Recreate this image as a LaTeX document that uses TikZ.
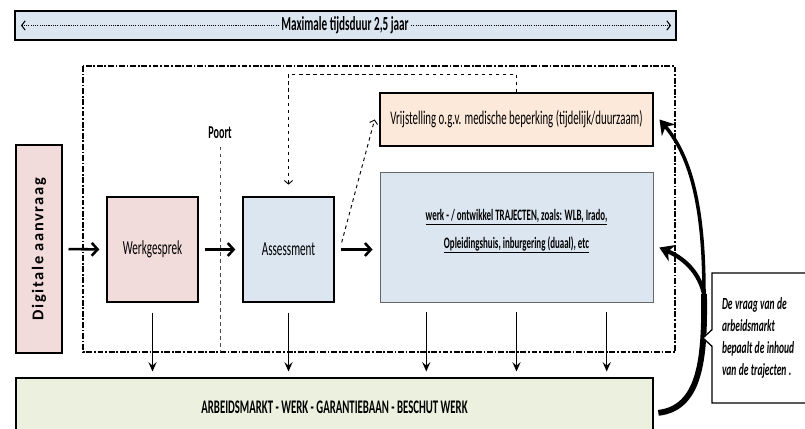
\documentclass[tikz,border=0pt]{standalone}
\usepackage{fontspec}
\setmainfont{Carlito}[FakeStretch=0.56]
\newfontfamily\spreadface{Carlito}[LetterSpace=10]
\usetikzlibrary{arrows.meta,shapes.callouts}

\definecolor{roze}{HTML}{F2DCDB}
\definecolor{lichtblauw}{HTML}{DCE6F1}
\definecolor{perzik}{HTML}{FDE9D9}
\definecolor{lichtgroen}{HTML}{EBF1DE}

\newcommand{\fs}[1]{\fontsize{#1}{#1}\selectfont}

\begin{document}
\begin{tikzpicture}[x=0.03cm, y=-0.03cm,
    box/.style={draw, line width=1.1pt, inner sep=0pt},
    flow/.style={line width=2.2pt, shorten <=5pt, shorten >=6pt, -{Straight Barb[length=5pt,width=11pt]}},
    drop/.style={line width=1pt, shorten <=8.5pt, shorten >=5pt, -{Stealth[length=8pt,width=7pt,inset=3pt]}},
    dashflow/.style={dashed, line width=0.8pt, -{Straight Barb[length=3pt,width=7pt]}},
    bigbend/.style={line width=3pt, -{Stealth[length=12pt,width=15pt]}}]
    \useasboundingbox (0,0) rectangle (805,429);

    \node[box, fill=lichtblauw, minimum width=19.83cm, minimum height=0.87cm] (TD) at (345.5,25.5) {};
    \node[fill=lichtblauw, inner sep=2pt, font=\bfseries\fs{17}] (TDtxt) at (345,25.5) {Maximale tijdsduur 2,5 jaar};
    \coordinate (TDl) at (21,25.5);
    \coordinate (TDr) at (671,25.5);
    \draw[densely dotted, line width=0.9pt, -{Straight Barb[length=3pt,width=8pt]}] (TDtxt) -- (TDl);
    \draw[densely dotted, line width=0.9pt, -{Straight Barb[length=3pt,width=8pt]}] (TDtxt) -- (TDr);

    \draw[line width=1.1pt, dash pattern=on 5pt off 1.5pt on 1.5pt off 1.5pt] (83,66) rectangle (675,352);

    \node[box, fill=roze, minimum width=1.38cm, minimum height=6.24cm] (DA) at (39,249) {};
    \node[rotate=90, font=\spreadface\bfseries\fs{14}] (DAtxt) at (DA) {Digitale aanvraag};
    \node[box, fill=roze, minimum width=2.73cm, minimum height=3.15cm, font=\fs{17}] (WG) at (152.5,249.5) {Werkgesprek};
    \node[box, fill=lichtblauw, minimum width=2.73cm, minimum height=3.15cm, font=\fs{17}] (AS) at (288.5,249.5) {Assessment};
    \node[box, fill=perzik, minimum width=8.19cm, minimum height=1.59cm, font=\fs{16.5}] (VR) at (516.5,119.5) {Vrijstelling o.g.v. medische beperking (tijdelijk/duurzaam)};
    \node[box, draw=black!60, line width=0.7pt, fill=lichtblauw, minimum width=8.19cm, minimum height=3.9cm] (TR) at (516.5,237) {};
    \node[align=center, font=\bfseries\fontsize{13.6}{24}\selectfont] (TRtxt) at ([yshift=5pt]TR.center)
        {\underline{werk - / ontwikkel TRAJECTEN, zoals: WLB, Irado,}\\ \underline{Opleidingshuis, inburgering (duaal), etc}};
    \node[box, fill=lichtgroen, minimum width=19.11cm, minimum height=1.74cm, font=\bfseries\fs{16.4}] (AM) at (334.5,407) {ARBEIDSMARKT - WERK - GARANTIEBAAN - BESCHUT WERK};

    \node[font=\bfseries\fs{15.5}] (PT) at (220,133) {Poort};
    \coordinate (PTend) at (220,352);
    \draw[dashed, line width=0.7pt, black!70] ([yshift=-3pt]PT.south) -- (PTend);

    \draw[flow] (DA.east) -- (WG.west);
    \draw[flow] (WG.east) -- (AS.west);
    \draw[flow] (AS.east) -- (AS.east -| TR.west);

    \draw[dashflow] (VR.north) -- ++(0,-18) -| ([yshift=10pt]AS.north);
    \draw[dashflow] ([xshift=6pt,yshift=6pt]AS.east) -- ([xshift=-4pt]VR.west);

    \draw[drop] (WG.south) -- (WG.south |- AM.north);
    \draw[drop] (AS.south) -- (AS.south |- AM.north);
    \foreach \dx in {-77,0,77}
        \draw[drop] ([xshift=\dx pt]TR.south) -- ([xshift=\dx pt]TR.south |- AM.north);

    \coordinate (KS) at (704,294);
    \draw[line width=5pt] ([xshift=4pt,yshift=-5pt]AM.east) .. controls (700,408) and (705,360) .. (KS);
    \draw[bigbend] (KS) .. controls (704,210) and (692,158) .. ([xshift=5pt]VR.east);
    \draw[bigbend, line width=3.6pt] (KS) .. controls (700,276) and (688,260) .. ([xshift=5pt,yshift=-9pt]TR.east);

    \node[rectangle callout, draw, line width=1.1pt, fill=white, minimum width=3.3cm, minimum height=3.9cm,
        text width=2.7cm, align=left, callout absolute pointer={(703,338)}, callout pointer width=0.5cm,
        font=\bfseries\itshape\fontsize{14.5}{18.7}\selectfont] (CB) at (767,338)
        {\spaceskip=2pt plus 1pt\relax De vraag van de\\ arbeidsmarkt\\ bepaalt de inhoud\\ van de trajecten .};
\end{tikzpicture}
\end{document}
